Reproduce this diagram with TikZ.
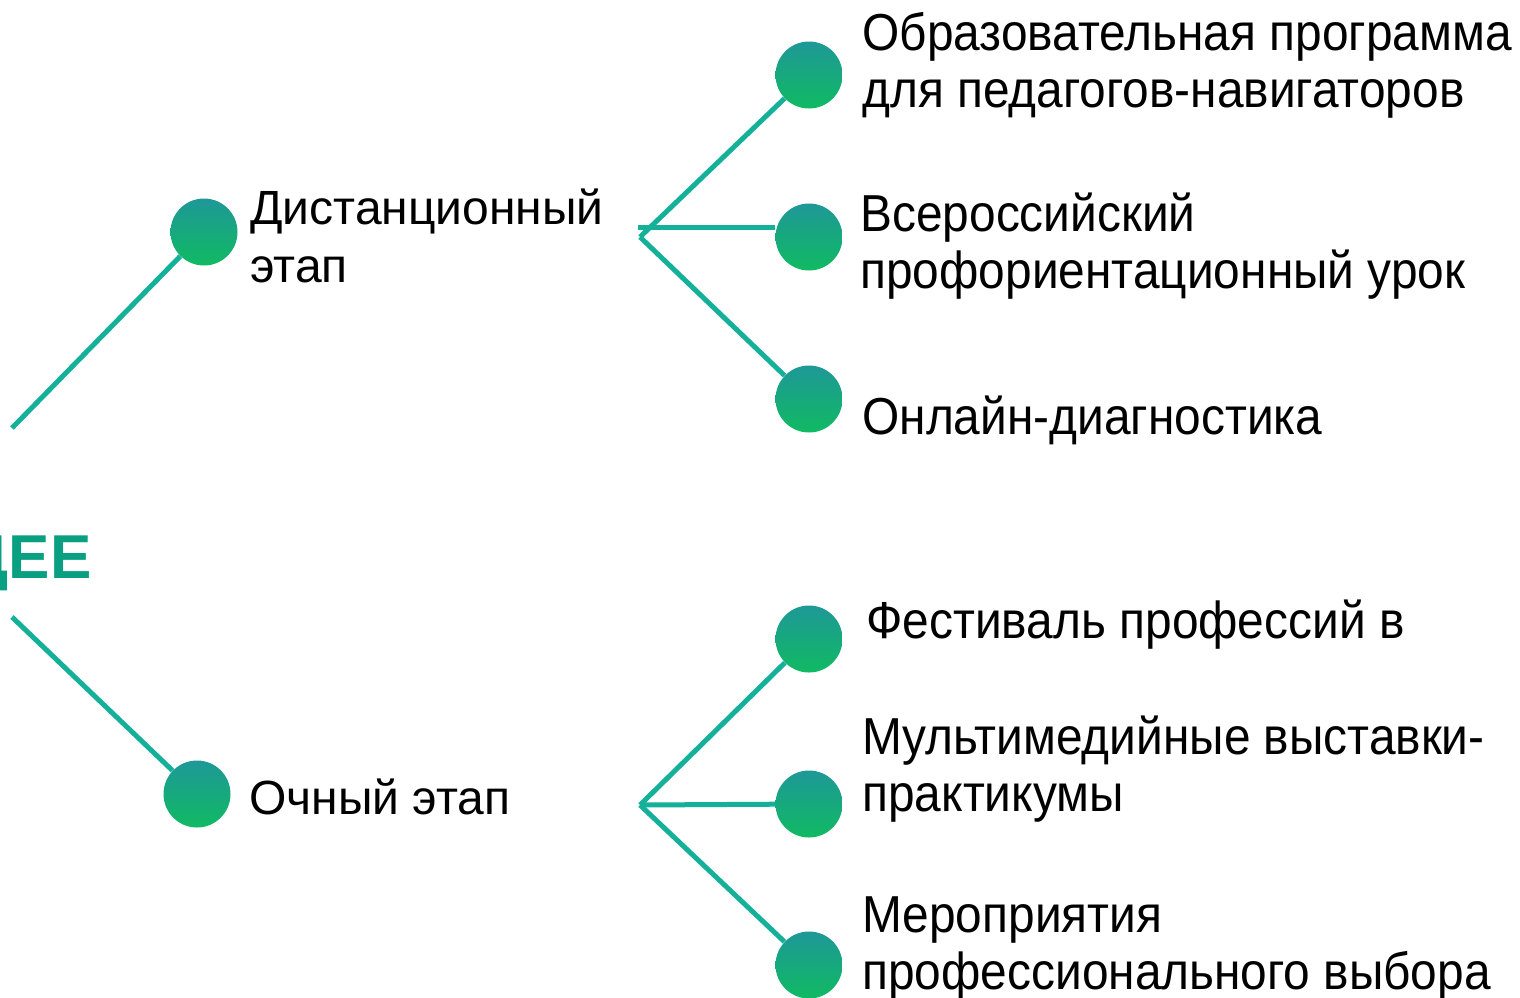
\documentclass[tikz,border=0pt]{standalone}
\usepackage{fontspec}
\setmainfont{Liberation Sans}
\newfontfamily\narrowfont[FakeStretch=0.92]{Liberation Sans}
\usepackage{tikz}
\usetikzlibrary{calc, positioning}
\definecolor{dottop}{RGB}{30,152,152}
\definecolor{dotmid}{RGB}{0,152,136}
\definecolor{dotbot}{RGB}{16,186,98}
\definecolor{linkcol}{RGB}{20,176,154}
\definecolor{headcol}{RGB}{8,160,128}

\begin{document}
\begin{tikzpicture}[x=0.5pt, y=-0.5pt,
  dot/.style={circle, inner sep=0pt, minimum size=33.5pt, top color=dottop, middle color=dotmid, bottom color=dotbot},
  link/.style={draw=linkcol, line width=2.5pt},
  lbl/.style={anchor=base west, inner sep=0pt, align=left, font=\fontsize{24}{29}\selectfont},
  rlbl/.style={anchor=base west, inner sep=0pt, align=left, font=\fontsize{26}{28.5}\selectfont\narrowfont}]
\useasboundingbox (0,0) rectangle (1520,997);
\clip (0,0) rectangle (1520,997);
% nodes %
\node[anchor=base east, inner sep=0pt, text=headcol, font=\fontsize{31}{31}\selectfont\bfseries] (head) at (92,578) {ДЕЕ};
\node[dot] (dist) at (204,232) {};
\node[dot] (ochn) at (197,794) {};
\node[dot] (d1) at (809,75) {};
\node[dot] (d2) at (809,237) {};
\node[dot] (d3) at (809,399) {};
\node[dot] (o1) at (809,639) {};
\node[dot] (o2) at (809,804) {};
\node[dot] (o3) at (809,965) {};
\coordinate (top) at (12,428);
\coordinate (bot) at (12,617);
\coordinate (hubd) at (640,237);
\coordinate (hubdh) at (638,227);
\coordinate (hubo) at (640,805);
% labels (base = last line) %
\node[lbl] (distl) at (250,282) {Дистанционный\\этап};
\node[lbl] (ochnl) at (249,814) {Очный этап};
\node[rlbl] (d1l) at (862,107) {Образовательная программа\\для педагогов-навигаторов};
\node[rlbl] (d2l) at (860,288) {Всероссийский\\профориентационный урок};
\node[rlbl] (d3l) at (862,434) {Онлайн-диагностика};
\node[rlbl] (o1l) at (866,638) {Фестиваль профессий в};
\node[rlbl] (o2l) at (862,811) {Мультимедийные выставки-\\практикумы};
\node[rlbl] (o3l) at (862,989) {Мероприятия\\профессионального выбора};
% edges %
\draw[link] (top) -- (dist);
\draw[link] (bot) -- (ochn);
\draw[link] (hubd) -- (d1);
\draw[link] (hubdh) -- (hubdh -| d2.west);
\draw[link] (hubd) -- (d3);
\draw[link] (hubo) -- (o1);
\draw[link] (hubo) -- (o2);
\draw[link] (hubo) -- (o3);
\end{tikzpicture}
\end{document}
